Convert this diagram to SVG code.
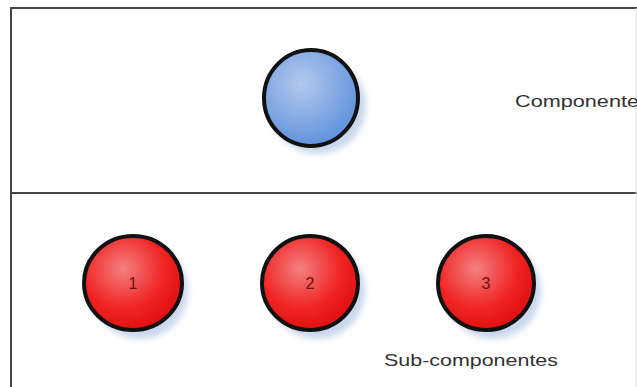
<svg xmlns="http://www.w3.org/2000/svg" width="637" height="387" viewBox="0 0 637 387">
<defs>
<radialGradient id="gBlue" cx="0.4" cy="0.35" r="0.7">
<stop offset="0" stop-color="#b3c9ec"/>
<stop offset="1" stop-color="#5c8fdc"/>
</radialGradient>
<radialGradient id="gRed" cx="0.4" cy="0.35" r="0.7">
<stop offset="0" stop-color="#f48080"/>
<stop offset="0.6" stop-color="#f02424"/>
<stop offset="1" stop-color="#e00c0c"/>
</radialGradient>
<filter id="blur" x="-30%" y="-30%" width="160%" height="160%"><feGaussianBlur stdDeviation="3"/></filter>
</defs>
<style>
.frame{fill:none;stroke:#444;stroke-width:2}
.shadow{fill:#c9d8ec;filter:url(#blur)}
.node{stroke:#111;stroke-width:4}
.lbl{font-family:"Liberation Sans",Arial,sans-serif;font-size:17px;fill:#333}
.num{font-family:"Liberation Sans",Arial,sans-serif;font-size:16px;fill:#701010;text-anchor:middle}
</style>
<rect width="637" height="387" fill="#fff"/>
<g id="frame">
<rect class="frame" x="11" y="8" width="640" height="390"/>
<line class="frame" x1="11" y1="193" x2="637" y2="193"/>
<line x1="636" y1="8" x2="636" y2="387" stroke="#ddd" stroke-width="1"/>
</g>
<g id="componente">
<ellipse class="shadow" cx="318" cy="106" rx="48" ry="48"/>
<ellipse class="node" cx="311" cy="98" rx="47" ry="48" fill="url(#gBlue)"/>
<text class="lbl" x="515" y="107" textLength="124" lengthAdjust="spacingAndGlyphs">Componente</text>
</g>
<g id="sub1">
<ellipse class="shadow" cx="140" cy="291" rx="48" ry="48"/>
<ellipse class="node" cx="133" cy="283" rx="49" ry="47" fill="url(#gRed)"/>
<text class="num" x="133" y="289">1</text>
</g>
<g id="sub2">
<ellipse class="shadow" cx="317" cy="291" rx="48" ry="48"/>
<ellipse class="node" cx="310" cy="283" rx="48" ry="47" fill="url(#gRed)"/>
<text class="num" x="310" y="289">2</text>
</g>
<g id="sub3">
<ellipse class="shadow" cx="493" cy="291" rx="48" ry="48"/>
<ellipse class="node" cx="486" cy="283" rx="48" ry="47" fill="url(#gRed)"/>
<text class="num" x="486" y="289">3</text>
</g>
<g id="connectors"/>
<text class="lbl" x="384" y="366" textLength="174" lengthAdjust="spacingAndGlyphs">Sub-componentes</text>
</svg>
